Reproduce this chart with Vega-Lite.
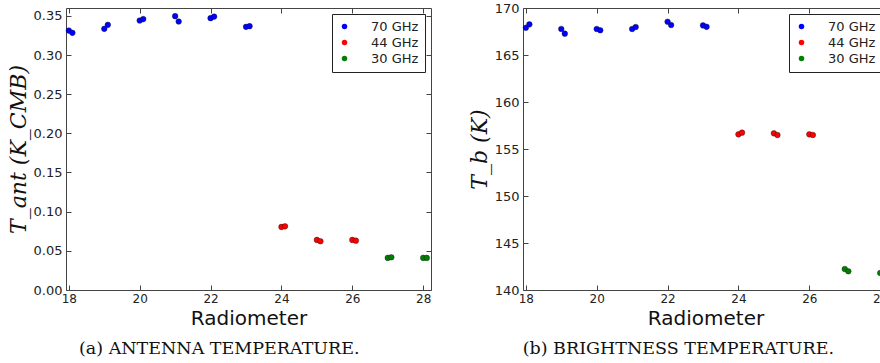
{
  "$schema": "https://vega.github.io/schema/vega-lite/v6.json",
  "padding": {"left": 6, "top": 1, "right": 0, "bottom": 0},
  "spacing": 35,
  "config": {
    "view": {"stroke": "#444", "strokeWidth": 1},
    "axis": {"grid": false, "domain": false, "tickColor": "#444", "tickSize": -5, "labelFont": "DejaVu Sans", "labelFontSize": 12, "labelColor": "#222", "labelPadding": 9, "titleColor": "#111"},
    "legend": {"labelFont": "DejaVu Sans", "labelFontSize": 13, "labelColor": "#222", "strokeColor": "#222", "fillColor": "white", "padding": 6, "symbolSize": 30, "symbolStrokeWidth": 0, "labelOffset": 20, "rowPadding": 2},
    "title": {"font": "DejaVu Serif", "fontSize": 17.5, "fontWeight": "normal", "color": "#111", "orient": "bottom", "anchor": "middle", "frame": "bounds", "offset": 12}
  },
  "datasets": {
    "ant": [
      {"radiometer": 18.0, "value": 0.3312, "band": "70 GHz"},
      {"radiometer": 18.1, "value": 0.3283, "band": "70 GHz"},
      {"radiometer": 19.0, "value": 0.3334, "band": "70 GHz"},
      {"radiometer": 19.1, "value": 0.3385, "band": "70 GHz"},
      {"radiometer": 20.0, "value": 0.3440, "band": "70 GHz"},
      {"radiometer": 20.1, "value": 0.3458, "band": "70 GHz"},
      {"radiometer": 21.0, "value": 0.3496, "band": "70 GHz"},
      {"radiometer": 21.1, "value": 0.3428, "band": "70 GHz"},
      {"radiometer": 22.0, "value": 0.3470, "band": "70 GHz"},
      {"radiometer": 22.1, "value": 0.3490, "band": "70 GHz"},
      {"radiometer": 23.0, "value": 0.3360, "band": "70 GHz"},
      {"radiometer": 23.1, "value": 0.3368, "band": "70 GHz"},
      {"radiometer": 24.0, "value": 0.0805, "band": "44 GHz"},
      {"radiometer": 24.1, "value": 0.0813, "band": "44 GHz"},
      {"radiometer": 25.0, "value": 0.0639, "band": "44 GHz"},
      {"radiometer": 25.1, "value": 0.0622, "band": "44 GHz"},
      {"radiometer": 26.0, "value": 0.0639, "band": "44 GHz"},
      {"radiometer": 26.1, "value": 0.0630, "band": "44 GHz"},
      {"radiometer": 27.0, "value": 0.0410, "band": "30 GHz"},
      {"radiometer": 27.1, "value": 0.0418, "band": "30 GHz"},
      {"radiometer": 28.0, "value": 0.0410, "band": "30 GHz"},
      {"radiometer": 28.1, "value": 0.0410, "band": "30 GHz"}
    ],
    "bright": [
      {"radiometer": 18.0, "value": 167.90, "band": "70 GHz"},
      {"radiometer": 18.1, "value": 168.26, "band": "70 GHz"},
      {"radiometer": 19.0, "value": 167.77, "band": "70 GHz"},
      {"radiometer": 19.1, "value": 167.27, "band": "70 GHz"},
      {"radiometer": 20.0, "value": 167.77, "band": "70 GHz"},
      {"radiometer": 20.1, "value": 167.63, "band": "70 GHz"},
      {"radiometer": 21.0, "value": 167.77, "band": "70 GHz"},
      {"radiometer": 21.1, "value": 167.98, "band": "70 GHz"},
      {"radiometer": 22.0, "value": 168.54, "band": "70 GHz"},
      {"radiometer": 22.1, "value": 168.19, "band": "70 GHz"},
      {"radiometer": 23.0, "value": 168.15, "band": "70 GHz"},
      {"radiometer": 23.1, "value": 168.00, "band": "70 GHz"},
      {"radiometer": 24.0, "value": 156.56, "band": "44 GHz"},
      {"radiometer": 24.1, "value": 156.74, "band": "44 GHz"},
      {"radiometer": 25.0, "value": 156.67, "band": "44 GHz"},
      {"radiometer": 25.1, "value": 156.49, "band": "44 GHz"},
      {"radiometer": 26.0, "value": 156.56, "band": "44 GHz"},
      {"radiometer": 26.1, "value": 156.49, "band": "44 GHz"},
      {"radiometer": 27.0, "value": 142.23, "band": "30 GHz"},
      {"radiometer": 27.1, "value": 141.99, "band": "30 GHz"},
      {"radiometer": 28.0, "value": 141.81, "band": "30 GHz"},
      {"radiometer": 28.1, "value": 141.80, "band": "30 GHz"}
    ]
  },
  "hconcat": [
    {
      "data": {"name": "ant"},
      "width": 365,
      "height": 282,
      "title": {"text": "(a) ANTENNA TEMPERATURE."},
      "layer": [
        {
          "mark": {"type": "point", "filled": true, "opacity": 1, "size": 32, "stroke": "#111", "strokeWidth": 0.4},
          "encoding": {
            "x": {"field": "radiometer", "type": "quantitative", "scale": {"domain": [17.92, 28.22], "nice": false, "zero": false}, "axis": {"title": "Radiometer", "titleFont": "DejaVu Sans", "titleFontSize": 20, "titleFontWeight": "normal", "titlePadding": 4, "labelPadding": 8, "values": [18, 20, 22, 24, 26, 28], "format": "d"}},
            "y": {"field": "value", "type": "quantitative", "scale": {"domain": [0, 0.36], "nice": false}, "axis": {"title": "T_ant (K_CMB)", "titleFont": "DejaVu Serif", "titleFontStyle": "italic", "titleFontWeight": "normal", "titleFontSize": 22, "titlePadding": 3, "values": [0, 0.05, 0.1, 0.15, 0.2, 0.25, 0.3, 0.35], "format": ".2f", "labelFontSize": 13}},
            "color": {"field": "band", "type": "nominal", "scale": {"domain": ["70 GHz", "44 GHz", "30 GHz"], "range": ["#0000ff", "#ff0000", "#008000"]}, "legend": {"title": null, "orient": "top-right", "offset": 6}}
          }
        },
        {
          "mark": {"type": "point", "opacity": 0},
          "encoding": {
            "x": {"field": "radiometer", "type": "quantitative", "axis": {"orient": "top", "labels": false, "title": null, "values": [18, 20, 22, 24, 26, 28]}},
            "y": {"field": "value", "type": "quantitative", "axis": {"orient": "right", "labels": false, "title": null, "values": [0, 0.05, 0.1, 0.15, 0.2, 0.25, 0.3, 0.35]}}
          }
        }
      ],
      "resolve": {"axis": {"x": "independent", "y": "independent"}}
    },
    {
      "data": {"name": "bright"},
      "width": 365,
      "height": 282,
      "title": {"text": "(b) BRIGHTNESS TEMPERATURE."},
      "layer": [
        {
          "mark": {"type": "point", "filled": true, "opacity": 1, "size": 32, "stroke": "#111", "strokeWidth": 0.4},
          "encoding": {
            "x": {"field": "radiometer", "type": "quantitative", "scale": {"domain": [17.92, 28.22], "nice": false, "zero": false}, "axis": {"title": "Radiometer", "titleFont": "DejaVu Sans", "titleFontSize": 20, "titleFontWeight": "normal", "titlePadding": 4, "labelPadding": 8, "values": [18, 20, 22, 24, 26, 28], "format": "d"}},
            "y": {"field": "value", "type": "quantitative", "scale": {"domain": [140, 170], "nice": false, "zero": false}, "axis": {"title": "T_b (K)", "titleFont": "DejaVu Serif", "titleFontStyle": "italic", "titleFontWeight": "normal", "titleFontSize": 22, "titlePadding": 3, "values": [140, 145, 150, 155, 160, 165, 170], "format": "d", "labelFontSize": 13}},
            "color": {"field": "band", "type": "nominal", "scale": {"domain": ["70 GHz", "44 GHz", "30 GHz"], "range": ["#0000ff", "#ff0000", "#008000"]}, "legend": {"title": null, "orient": "top-right", "offset": 6}}
          }
        },
        {
          "mark": {"type": "point", "opacity": 0},
          "encoding": {
            "x": {"field": "radiometer", "type": "quantitative", "axis": {"orient": "top", "labels": false, "title": null, "values": [18, 20, 22, 24, 26, 28]}},
            "y": {"field": "value", "type": "quantitative", "axis": {"orient": "right", "labels": false, "title": null, "values": [140, 145, 150, 155, 160, 165, 170]}}
          }
        }
      ],
      "resolve": {"axis": {"x": "independent", "y": "independent"}}
    }
  ],
  "resolve": {"scale": {"color": "independent"}}
}
